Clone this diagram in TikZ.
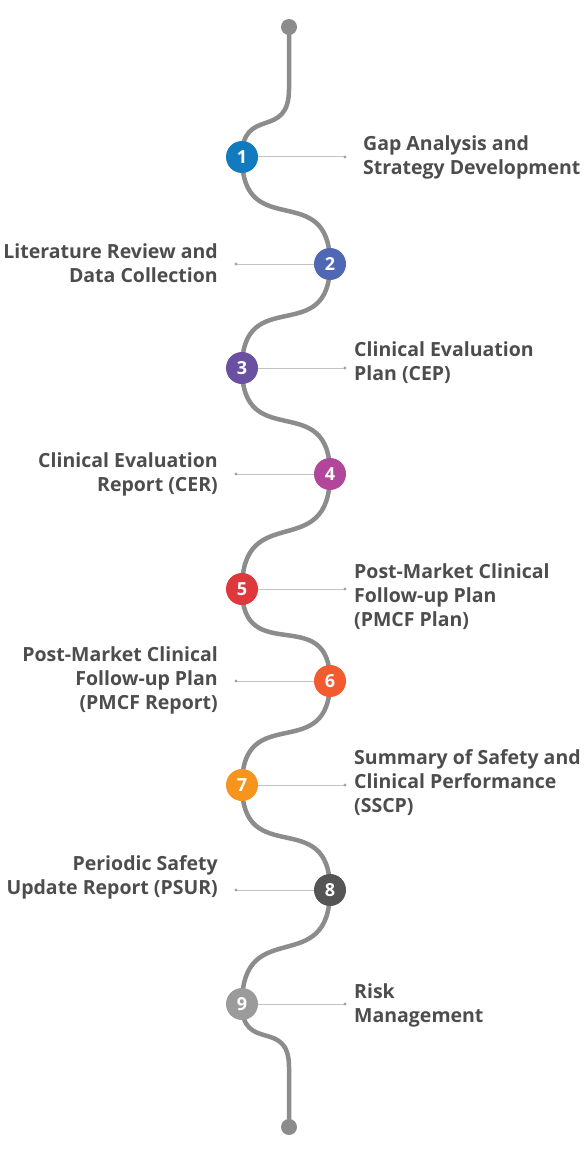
\documentclass[tikz,border=0pt]{standalone}
\usepackage{fontspec}
\setmainfont{Open Sans}
\usepackage{xcolor}
\usepackage{tikz}
\usetikzlibrary{positioning, calc}
\definecolor{pathgray}{RGB}{140, 140, 140}
\definecolor{linkgray}{RGB}{195, 195, 195}
\definecolor{labelgray}{RGB}{77, 77, 77}
\definecolor{stepA}{RGB}{18, 122, 190}
\definecolor{stepB}{RGB}{80, 104, 180}
\definecolor{stepC}{RGB}{105, 80, 160}
\definecolor{stepD}{RGB}{178, 70, 155}
\definecolor{stepE}{RGB}{222, 56, 60}
\definecolor{stepF}{RGB}{242, 90, 48}
\definecolor{stepG}{RGB}{246, 148, 30}
\definecolor{stepH}{RGB}{85, 85, 85}
\definecolor{stepI}{RGB}{155, 155, 155}

\begin{document}
\begin{tikzpicture}[
  x=1pt, y=-1pt,
  road/.style={draw=pathgray, line width=4.5pt},
  wave/.style={out=-90, in=90, looseness=1.6},
  milestone/.style={circle, minimum size=32pt, inner sep=0pt, text=white,
                    font=\fontsize{18}{18}\selectfont\bfseries},
  link/.style={draw=linkgray, line width=1pt},
  tip/.style={fill=pathgray!80},
  rlabel/.style={anchor=west, align=left, inner sep=0pt, text=labelgray,
                 font=\fontsize{19.5}{24}\selectfont\bfseries},
  llabel/.style={anchor=east, align=right, inner sep=0pt, text=labelgray,
                 font=\fontsize{19.5}{24}\selectfont\bfseries}
]
\useasboundingbox (0,0) rectangle (587,1161);

% centres of the stops
\coordinate (top) at (289,27);
\coordinate (c1) at (242,157);
\coordinate (c2) at (330,264);
\coordinate (c3) at (242,368);
\coordinate (c4) at (330,474);
\coordinate (c5) at (242,589);
\coordinate (c6) at (330,681);
\coordinate (c7) at (242,785);
\coordinate (c8) at (330,890);
\coordinate (c9) at (242,1004);
\coordinate (bot) at (289,1127);

% winding road
\draw[road] (top) -- ++(0,62) to[wave] (c1) to[wave] (c2) to[wave] (c3)
  to[wave] (c4) to[wave] (c5) to[wave] (c6) to[wave] (c7) to[wave] (c8)
  to[wave] (c9) to[wave] ($(bot)+(0,-60)$) -- (bot);
\fill[pathgray] (top) circle (8);
\fill[pathgray] (bot) circle (8);

% stops
\node[milestone, fill=stepA] (n1) at (c1) {1};
\node[milestone, fill=stepB] (n2) at (c2) {2};
\node[milestone, fill=stepC] (n3) at (c3) {3};
\node[milestone, fill=stepD] (n4) at (c4) {4};
\node[milestone, fill=stepE] (n5) at (c5) {5};
\node[milestone, fill=stepF] (n6) at (c6) {6};
\node[milestone, fill=stepG] (n7) at (c7) {7};
\node[milestone, fill=stepH] (n8) at (c8) {8};
\node[milestone, fill=stepI] (n9) at (c9) {9};

% labels
\node[rlabel] (t1) at (363,157) {Gap Analysis and\\Strategy Development};
\node[llabel] (t2) at (218,263) {Literature Review and\\Data Collection};
\node[rlabel] (t3) at (354,363) {Clinical Evaluation\\Plan (CEP)};
\node[llabel] (t4) at (218,474) {Clinical Evaluation\\Report (CER)};
\node[rlabel] (t5) at (354,597) {Post-Market Clinical\\Follow-up Plan\\(PMCF Plan)};
\node[llabel] (t6) at (218,680) {Post-Market Clinical\\Follow-up Plan~\\(PMCF Report)};
\node[rlabel] (t7) at (354,783) {Summary of Safety and\\Clinical Performance\\(SSCP)};
\node[llabel] (t8) at (218,877) {Periodic Safety\\Update Report (PSUR)};
\node[rlabel] (t9) at (354,1005) {Risk\\Management};

% leader lines
\coordinate (d1) at (345,157);
\coordinate (d2) at (236,264);
\coordinate (d3) at (345,368);
\coordinate (d4) at (236,474);
\coordinate (d5) at (345,589);
\coordinate (d6) at (236,681);
\coordinate (d7) at (345,785);
\coordinate (d8) at (236,890);
\coordinate (d9) at (345,1004);
\draw[link] (n1) -- (d1);
\draw[link] (d2) -- (n2);
\draw[link] (n3) -- (d3);
\draw[link] (d4) -- (n4);
\draw[link] (n5) -- (d5);
\draw[link] (d6) -- (n6);
\draw[link] (n7) -- (d7);
\draw[link] (d8) -- (n8);
\draw[link] (n9) -- (d9);
\fill[tip] (d1) circle (1.6) (d2) circle (1.6) (d3) circle (1.6)
  (d4) circle (1.6) (d5) circle (1.6) (d6) circle (1.6)
  (d7) circle (1.6) (d8) circle (1.6) (d9) circle (1.6);
\end{tikzpicture}
\end{document}
